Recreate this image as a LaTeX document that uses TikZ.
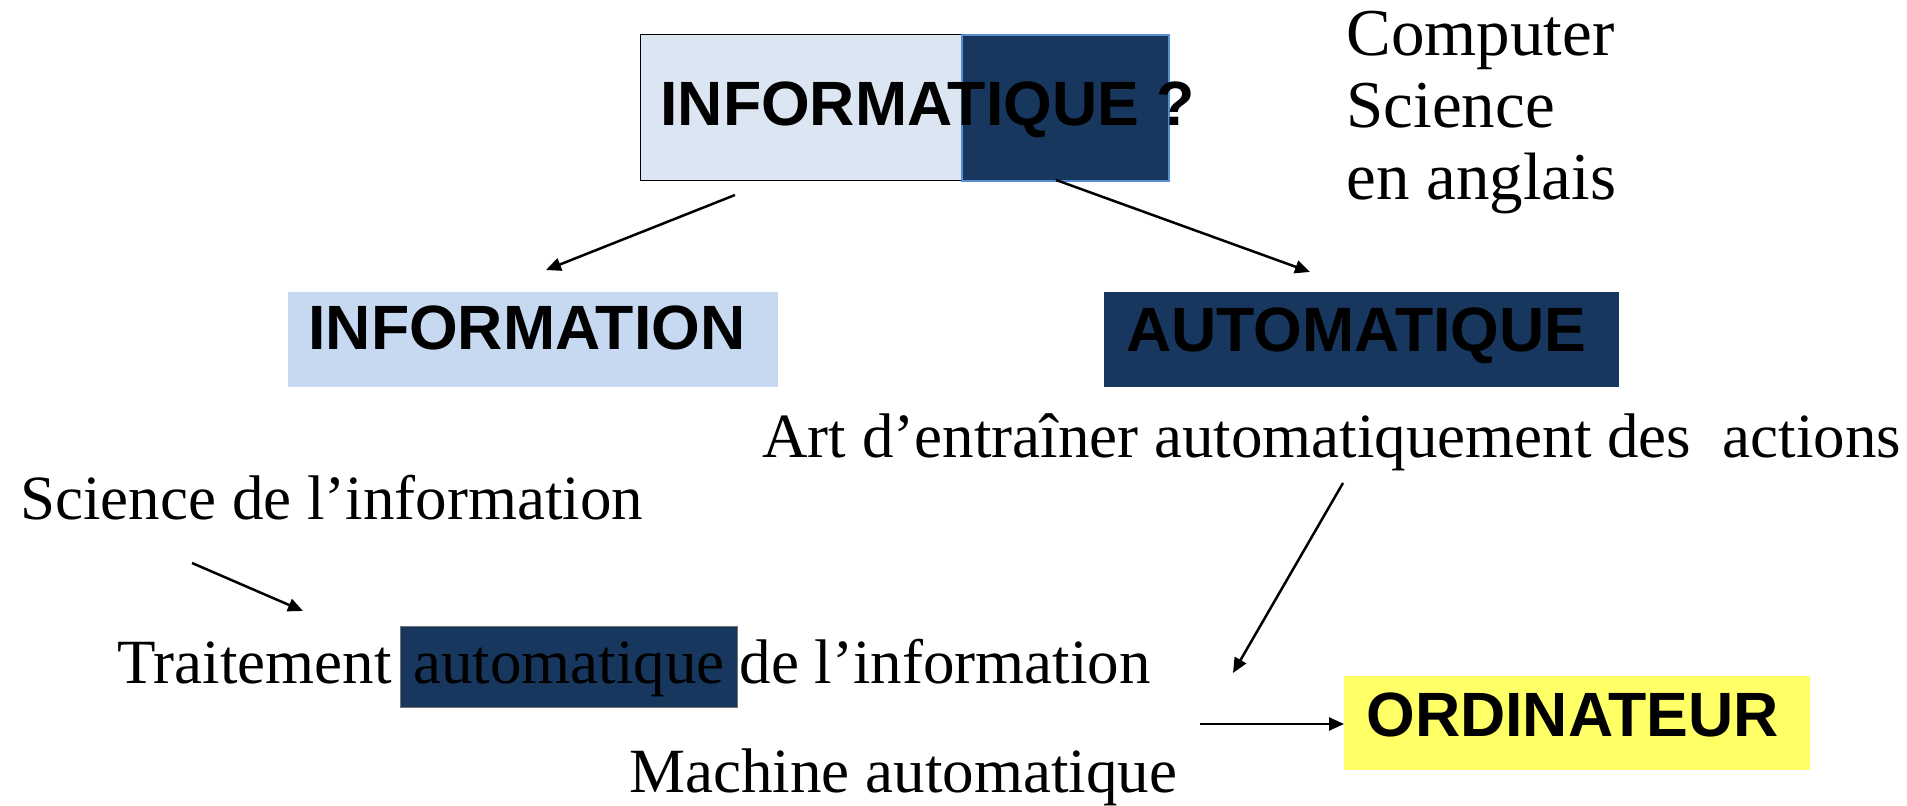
\documentclass[tikz,border=0pt]{standalone}
\usepackage{fontspec}
\setmainfont{Liberation Serif}
\setsansfont{Liberation Sans}
\usetikzlibrary{arrows.meta,positioning}

\definecolor{paleblue}{HTML}{DCE6F2}
\definecolor{infoblue}{HTML}{C6D9F1}
\definecolor{navy}{HTML}{17375E}
\definecolor{rimblue}{HTML}{558ED5}
\definecolor{lemon}{HTML}{FFFF66}

\begin{document}
\begin{tikzpicture}[
    x=0.5pt, y=-0.5pt,
    word/.style={font=\fontsize{31.5}{36}\selectfont, inner sep=0pt, anchor=base west},
    note/.style={font=\fontsize{33.5}{38}\selectfont, inner sep=0pt, anchor=base west},
    title/.style={font=\fontsize{31.3}{36}\selectfont\sffamily\bfseries, inner sep=0pt, anchor=base west},
    panel/.style={inner sep=0pt, anchor=north west, minimum height=47.5pt},
    hl/.style={word, fill=navy, draw=black!55, line width=0.4pt, inner xsep=6.5pt,
        text height=28.5pt, text depth=12pt},
    edge/.style={-{Triangle[length=7.5pt, width=6.5pt]}, line width=1.25pt}
]
\useasboundingbox (0,0) rectangle (1907,806);

% the two-coloured title box
\node[panel, fill=paleblue, draw=black, line width=0.5pt, minimum width=160.5pt, minimum height=73pt] (infq) at (640,34) {};
\node[panel, fill=navy, draw=rimblue, line width=0.8pt, minimum width=103.5pt, minimum height=73pt] (infq2) at (961,34) {};
\node[title] (infqtxt) at ([xshift=10pt, yshift=-46pt]infq.north west) {INFORMATIQUE ?};

\node[note] (comp) at (1346,56) {Computer};
\node[note] (sci) at (1346,128) {Science};
\node[note] (angl) at (1346,200) {en anglais};

% the two halves of the word
\node[panel, fill=infoblue, minimum width=245pt] (info) at (288,292) {};
\node[title] (infotxt) at ([xshift=10pt, yshift=-29pt]info.north west) {INFORMATION};
\node[panel, fill=navy, minimum width=257.5pt] (auto) at (1104,292) {};
\node[title] (autotxt) at ([xshift=11pt, yshift=-30pt]auto.north west) {AUTOMATIQUE};

\node[word] (art) at (762,458) {Art d’entraîner automatiquement des~ actions};
\node[word] (scinfo) at (20,520) {Science de l’information};

\node[word] (trait) at (117,683) {Traitement};
\node[hl, right=4pt of trait.base east, anchor=base west] (autom) {automatique};
\node[word, right=0.5pt of autom.base east, anchor=base west] (delinfo) {de l’information};

\node[word] (mach) at (629,792) {Machine automatique};

\node[panel, fill=lemon, minimum width=233pt, minimum height=47pt] (ordi) at (1344,676) {};
\node[title] (orditxt) at ([xshift=11pt, yshift=-30.5pt]ordi.north west) {ORDINATEUR};

% arrow ends
\coordinate (q1) at (735,195);
\coordinate (q2) at (1056,180);
\coordinate (i1) at (546,270);
\coordinate (a1) at (1310,272);
\coordinate (art1) at (1343,483);
\coordinate (art2) at (1233,673);
\coordinate (s1) at (192,563);
\coordinate (s2) at (303,611);
\coordinate (m1) at (1200,724);

\draw[edge] (q1) -- (i1);
\draw[edge] (q2) -- (a1);
\draw[edge] (art1) -- (art2);
\draw[edge] (s1) -- (s2);
\draw[edge] (m1) -- (m1 -| ordi.west);
\end{tikzpicture}
\end{document}
